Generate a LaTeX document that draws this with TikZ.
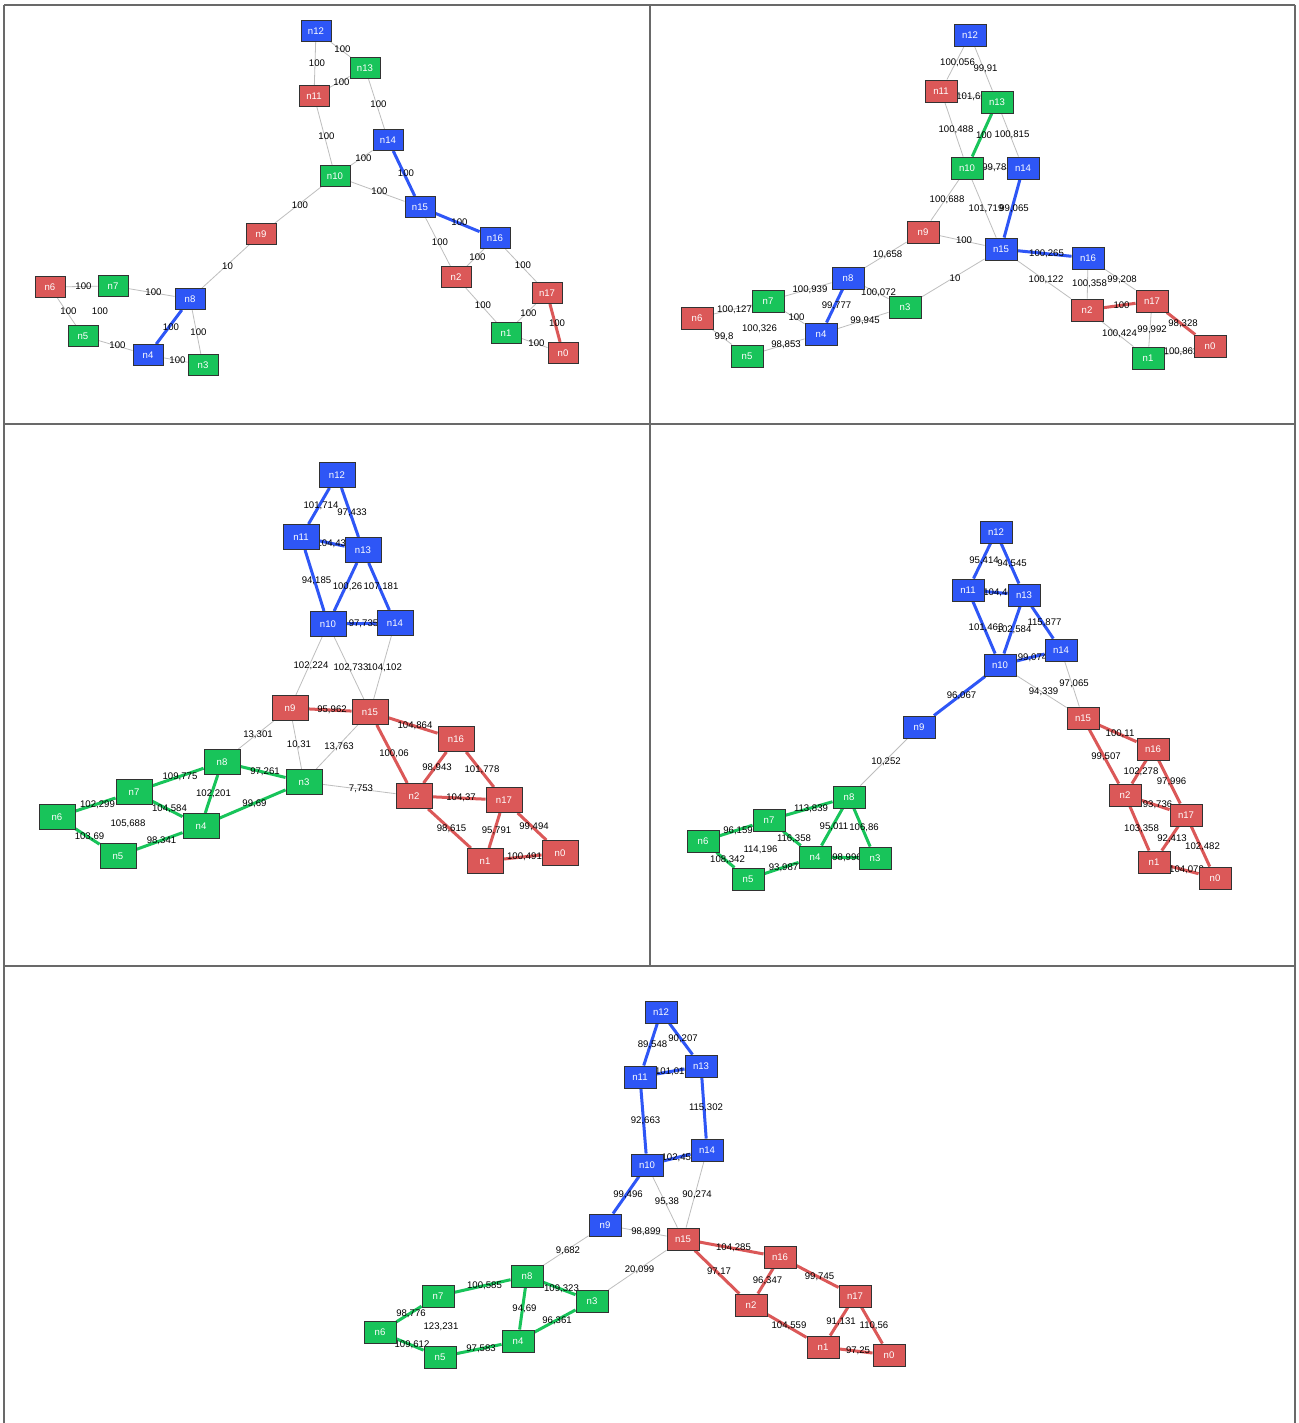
\documentclass[tikz,border=0pt]{standalone}
\usepackage{fontspec}
\setmainfont{Liberation Sans}
\usepackage{tikz}
\definecolor{nodeBlue}{RGB}{46,86,246}
\definecolor{nodeGreen}{RGB}{24,196,90}
\definecolor{nodeRed}{RGB}{219,88,88}
\definecolor{nodeBorder}{RGB}{50,50,50}
\definecolor{edgeGray}{RGB}{190,190,190}
\definecolor{frameGray}{RGB}{105,105,105}
\pgfdeclarelayer{paper}
\pgfdeclarelayer{edges}
\pgfsetlayers{paper,edges,main}
\tikzset{
  vert/.style={draw=nodeBorder, line width=0.9pt, text=white, font=\fontsize{9.6}{10}\selectfont,
    inner sep=0pt, minimum width=32pt, minimum height=22pt},
  bnode/.style={vert, fill=nodeBlue},
  gnode/.style={vert, fill=nodeGreen},
  rnode/.style={vert, fill=nodeRed},
  wt/.style={font=\fontsize{9.6}{10}\selectfont, text=black, inner sep=0pt, xshift=2pt},
  thinedge/.style={draw=edgeGray, line width=0.8pt},
  blueedge/.style={draw=nodeBlue, line width=3pt},
  greenedge/.style={draw=nodeGreen, line width=3pt},
  rededge/.style={draw=nodeRed, line width=3pt},
  frame/.style={draw=frameGray, line width=1.3pt}
}
\begin{document}
\begin{tikzpicture}[x=1pt, y=-1pt]
  \useasboundingbox (0,0) rectangle (1298,1423);
  \begin{pgfonlayer}{paper}
    \fill[white] (0,0) rectangle (1298,1423);
  \end{pgfonlayer}

  % Panel frames
  \draw[frame] (4,5) -- (1295,5);
  \draw[frame] (4,5) -- (4,1423);
  \draw[frame] (1295,5) -- (1295,1423);
  \draw[frame] (4,424) -- (1295,424);
  \draw[frame] (4,966) -- (1295,966);
  \draw[frame] (650,5) -- (650,966);

  % Panel 1 (top left)
  \begin{scope}[vert/.append style={minimum width=30pt, minimum height=21pt}]
    \node[bnode] (p1n12) at (316,31) {n12};
    \node[gnode] (p1n13) at (365,68) {n13};
    \node[rnode] (p1n11) at (314,96) {n11};
    \node[bnode] (p1n14) at (388,140) {n14};
    \node[gnode] (p1n10) at (335,176) {n10};
    \node[bnode] (p1n15) at (420,207) {n15};
    \node[rnode] (p1n9) at (261,234) {n9};
    \node[bnode] (p1n16) at (495,238) {n16};
    \node[rnode] (p1n2) at (456,277) {n2};
    \node[rnode] (p1n17) at (547,293) {n17};
    \node[rnode] (p1n6) at (50,287) {n6};
    \node[gnode] (p1n7) at (113,286) {n7};
    \node[bnode] (p1n8) at (190,299) {n8};
    \node[gnode] (p1n5) at (83,336) {n5};
    \node[bnode] (p1n4) at (148,355) {n4};
    \node[gnode] (p1n3) at (203,365) {n3};
    \node[gnode] (p1n1) at (506,333) {n1};
    \node[rnode] (p1n0) at (563,353) {n0};
  \end{scope}
  \begin{pgfonlayer}{edges}
    \draw[thinedge] (p1n12) -- node[wt] {100} (p1n11);
    \draw[thinedge] (p1n12) -- node[wt] {100} (p1n13);
    \draw[thinedge] (p1n13) -- node[wt] {100} (p1n11);
    \draw[thinedge] (p1n13) -- node[wt] {100} (p1n14);
    \draw[thinedge] (p1n11) -- node[wt] {100} (p1n10);
    \draw[thinedge] (p1n10) -- node[wt] {100} (p1n14);
    \draw[blueedge] (p1n14) -- node[wt] {100} (p1n15);
    \draw[thinedge] (p1n10) -- node[wt] {100} (p1n15);
    \draw[thinedge] (p1n10) -- node[wt] {100} (p1n9);
    \draw[thinedge] (p1n9) -- node[wt] {10} (p1n8);
    \draw[blueedge] (p1n15) -- node[wt] {100} (p1n16);
    \draw[thinedge] (p1n15) -- node[wt] {100} (p1n2);
    \draw[thinedge] (p1n16) -- node[wt] {100} (p1n2);
    \draw[thinedge] (p1n16) -- node[wt] {100} (p1n17);
    \draw[thinedge] (p1n2) -- node[wt] {100} (p1n1);
    \draw[thinedge] (p1n17) -- node[wt] {100} (p1n1);
    \draw[rededge] (p1n17) -- node[wt] {100} (p1n0);
    \draw[thinedge] (p1n1) -- node[wt] {100} (p1n0);
    \draw[thinedge] (p1n6) -- node[wt] {100} (p1n7);
    \draw[thinedge] (p1n7) -- node[wt] {100} (p1n8);
    \draw[thinedge] (p1n6) -- node[wt] {100} (p1n5);
    \path (p1n7) -- node[wt] {100} (p1n5);
    \draw[blueedge] (p1n8) -- node[wt] {100} (p1n4);
    \draw[thinedge] (p1n8) -- node[wt] {100} (p1n3);
    \draw[thinedge] (p1n5) -- node[wt] {100} (p1n4);
    \draw[thinedge] (p1n4) -- node[wt] {100} (p1n3);
  \end{pgfonlayer}

  % Panel 2 (top right)
  \node[bnode] (p2n12) at (970,35) {n12};
  \node[rnode] (p2n11) at (941,91) {n11};
  \node[gnode] (p2n13) at (997,102) {n13};
  \node[gnode] (p2n10) at (967,168) {n10};
  \node[bnode] (p2n14) at (1023,168) {n14};
  \node[rnode] (p2n9) at (923,232) {n9};
  \node[bnode] (p2n15) at (1001,249) {n15};
  \node[bnode] (p2n16) at (1088,258) {n16};
  \node[bnode] (p2n8) at (848,278) {n8};
  \node[gnode] (p2n7) at (768,301) {n7};
  \node[gnode] (p2n3) at (905,307) {n3};
  \node[rnode] (p2n6) at (697,318) {n6};
  \node[rnode] (p2n17) at (1152,301) {n17};
  \node[rnode] (p2n2) at (1087,310) {n2};
  \node[bnode] (p2n4) at (821,334) {n4};
  \node[gnode] (p2n5) at (747,356) {n5};
  \node[gnode] (p2n1) at (1148,358) {n1};
  \node[rnode] (p2n0) at (1210,346) {n0};
  \begin{pgfonlayer}{edges}
    \draw[thinedge] (p2n12) -- node[wt] {100,056} (p2n11);
    \draw[thinedge] (p2n12) -- node[wt] {99,91} (p2n13);
    \draw[thinedge] (p2n11) -- node[wt] {101,66} (p2n13);
    \draw[thinedge] (p2n11) -- node[wt] {100,488} (p2n10);
    \draw[greenedge] (p2n13) -- node[wt] {100} (p2n10);
    \draw[thinedge] (p2n13) -- node[wt] {100,815} (p2n14);
    \draw[thinedge] (p2n10) -- node[wt] {99,781} (p2n14);
    \draw[thinedge] (p2n10) -- node[wt] {100,688} (p2n9);
    \draw[thinedge] (p2n10) -- node[wt] {101,719} (p2n15);
    \draw[blueedge] (p2n14) -- node[wt] {99,065} (p2n15);
    \draw[thinedge] (p2n9) -- node[wt] {100} (p2n15);
    \draw[thinedge] (p2n9) -- node[wt] {10,658} (p2n8);
    \draw[blueedge] (p2n15) -- node[wt] {100,265} (p2n16);
    \draw[thinedge] (p2n15) -- node[wt] {10} (p2n3);
    \draw[thinedge] (p2n15) -- node[wt] {100,122} (p2n2);
    \draw[thinedge] (p2n16) -- node[wt] {100,358} (p2n2);
    \draw[thinedge] (p2n16) -- node[wt] {99,208} (p2n17);
    \draw[rededge] (p2n2) -- node[wt] {100} (p2n17);
    \draw[rededge] (p2n17) -- node[wt] {98,328} (p2n0);
    \draw[thinedge] (p2n2) -- node[wt] {100,424} (p2n1);
    \draw[thinedge] (p2n17) -- node[wt] {99,992} (p2n1);
    \draw[thinedge] (p2n1) -- node[wt] {100,862} (p2n0);
    \draw[thinedge] (p2n8) -- node[wt] {100,939} (p2n7);
    \draw[thinedge] (p2n8) -- node[wt] {100,072} (p2n3);
    \draw[blueedge] (p2n8) -- node[wt] {99,777} (p2n4);
    \draw[thinedge] (p2n7) -- node[wt] {100,127} (p2n6);
    \draw[thinedge] (p2n7) -- node[wt] {100} (p2n4);
    \path (p2n7) -- node[wt] {100,326} (p2n5);
    \draw[thinedge] (p2n6) -- node[wt] {99,8} (p2n5);
    \draw[thinedge] (p2n5) -- node[wt] {98,853} (p2n4);
    \draw[thinedge] (p2n4) -- node[wt] {99,945} (p2n3);
  \end{pgfonlayer}

  % Panel 3 (middle left)
  \begin{scope}[vert/.append style={minimum width=36pt, minimum height=25pt}]
    \node[bnode] (p3n12) at (337,475) {n12};
    \node[bnode] (p3n11) at (301,537) {n11};
    \node[bnode] (p3n13) at (363,550) {n13};
    \node[bnode] (p3n10) at (328,624) {n10};
    \node[bnode] (p3n14) at (395,623) {n14};
    \node[rnode] (p3n9) at (290,708) {n9};
    \node[rnode] (p3n15) at (370,712) {n15};
    \node[rnode] (p3n16) at (456,739) {n16};
    \node[gnode] (p3n8) at (222,762) {n8};
    \node[gnode] (p3n3) at (304,782) {n3};
    \node[gnode] (p3n7) at (134,792) {n7};
    \node[rnode] (p3n2) at (414,796) {n2};
    \node[rnode] (p3n17) at (504,800) {n17};
    \node[gnode] (p3n6) at (57,817) {n6};
    \node[gnode] (p3n4) at (201,826) {n4};
    \node[gnode] (p3n5) at (118,856) {n5};
    \node[rnode] (p3n1) at (485,861) {n1};
    \node[rnode] (p3n0) at (560,853) {n0};
  \end{scope}
  \begin{pgfonlayer}{edges}
    \draw[blueedge] (p3n12) -- node[wt] {101,714} (p3n11);
    \draw[blueedge] (p3n12) -- node[wt] {97,433} (p3n13);
    \draw[blueedge] (p3n11) -- node[wt] {104,433} (p3n13);
    \draw[blueedge] (p3n11) -- node[wt] {94,185} (p3n10);
    \draw[blueedge] (p3n13) -- node[wt] {100,26} (p3n10);
    \draw[blueedge] (p3n13) -- node[wt] {107,181} (p3n14);
    \draw[blueedge] (p3n10) -- node[wt] {97,735} (p3n14);
    \draw[thinedge] (p3n10) -- node[wt] {102,224} (p3n9);
    \draw[thinedge] (p3n10) -- node[wt] {102,733} (p3n15);
    \draw[thinedge] (p3n14) -- node[wt] {104,102} (p3n15);
    \draw[rededge] (p3n9) -- node[wt] {95,962} (p3n15);
    \draw[rededge] (p3n15) -- node[wt] {104,864} (p3n16);
    \draw[rededge] (p3n15) -- node[wt] {100,06} (p3n2);
    \draw[thinedge] (p3n15) -- node[wt] {13,763} (p3n3);
    \draw[thinedge] (p3n9) -- node[wt] {13,301} (p3n8);
    \draw[thinedge] (p3n9) -- node[wt] {10,31} (p3n3);
    \draw[rededge] (p3n16) -- node[wt] {98,943} (p3n2);
    \draw[rededge] (p3n16) -- node[wt] {101,778} (p3n17);
    \draw[rededge] (p3n2) -- node[wt] {104,37} (p3n17);
    \draw[thinedge] (p3n3) -- node[wt] {7,753} (p3n2);
    \draw[rededge] (p3n2) -- node[wt] {98,615} (p3n1);
    \draw[rededge] (p3n17) -- node[wt] {95,791} (p3n1);
    \draw[rededge] (p3n17) -- node[wt] {99,494} (p3n0);
    \draw[rededge] (p3n1) -- node[wt] {100,491} (p3n0);
    \draw[greenedge] (p3n8) -- node[wt] {109,775} (p3n7);
    \draw[greenedge] (p3n8) -- node[wt] {97,261} (p3n3);
    \draw[greenedge] (p3n8) -- node[wt] {102,201} (p3n4);
    \draw[greenedge] (p3n7) -- node[wt] {102,299} (p3n6);
    \draw[greenedge] (p3n7) -- node[wt] {104,584} (p3n4);
    \path (p3n7) -- node[wt] {105,688} (p3n5);
    \draw[greenedge] (p3n6) -- node[wt] {103,69} (p3n5);
    \draw[greenedge] (p3n5) -- node[wt] {98,341} (p3n4);
    \draw[greenedge] (p3n4) -- node[wt] {99,69} (p3n3);
  \end{pgfonlayer}

  % Panel 4 (middle right)
  \node[bnode] (p4n12) at (996,532) {n12};
  \node[bnode] (p4n11) at (968,590) {n11};
  \node[bnode] (p4n13) at (1024,595) {n13};
  \node[bnode] (p4n14) at (1061,650) {n14};
  \node[bnode] (p4n10) at (1000,665) {n10};
  \node[bnode] (p4n9) at (919,727) {n9};
  \node[rnode] (p4n15) at (1083,718) {n15};
  \node[rnode] (p4n16) at (1153,749) {n16};
  \node[gnode] (p4n8) at (849,797) {n8};
  \node[gnode] (p4n7) at (769,820) {n7};
  \node[rnode] (p4n2) at (1125,795) {n2};
  \node[rnode] (p4n17) at (1186,815) {n17};
  \node[gnode] (p4n6) at (703,841) {n6};
  \node[gnode] (p4n4) at (815,857) {n4};
  \node[gnode] (p4n3) at (875,858) {n3};
  \node[gnode] (p4n5) at (748,879) {n5};
  \node[rnode] (p4n1) at (1154,862) {n1};
  \node[rnode] (p4n0) at (1215,878) {n0};
  \begin{pgfonlayer}{edges}
    \draw[blueedge] (p4n12) -- node[wt] {95,414} (p4n11);
    \draw[blueedge] (p4n12) -- node[wt] {94,545} (p4n13);
    \draw[blueedge] (p4n11) -- node[wt] {104,46} (p4n13);
    \draw[blueedge] (p4n11) -- node[wt] {101,463} (p4n10);
    \draw[blueedge] (p4n13) -- node[wt] {102,584} (p4n10);
    \draw[blueedge] (p4n13) -- node[wt] {115,877} (p4n14);
    \draw[blueedge] (p4n10) -- node[wt] {99,074} (p4n14);
    \draw[blueedge] (p4n10) -- node[wt] {96,067} (p4n9);
    \draw[thinedge] (p4n10) -- node[wt] {94,339} (p4n15);
    \draw[thinedge] (p4n14) -- node[wt] {97,065} (p4n15);
    \draw[thinedge] (p4n9) -- node[wt] {10,252} (p4n8);
    \draw[rededge] (p4n15) -- node[wt] {100,11} (p4n16);
    \draw[rededge] (p4n15) -- node[wt] {99,507} (p4n2);
    \draw[rededge] (p4n16) -- node[wt] {102,278} (p4n2);
    \draw[rededge] (p4n16) -- node[wt] {97,996} (p4n17);
    \draw[rededge] (p4n2) -- node[wt] {93,736} (p4n17);
    \draw[rededge] (p4n2) -- node[wt] {103,358} (p4n1);
    \draw[rededge] (p4n17) -- node[wt] {92,413} (p4n1);
    \draw[rededge] (p4n17) -- node[wt] {102,482} (p4n0);
    \draw[rededge] (p4n1) -- node[wt] {104,073} (p4n0);
    \draw[greenedge] (p4n8) -- node[wt] {113,839} (p4n7);
    \draw[greenedge] (p4n8) -- node[wt] {95,011} (p4n4);
    \draw[greenedge] (p4n8) -- node[wt] {106,86} (p4n3);
    \draw[greenedge] (p4n7) -- node[wt] {96,159} (p4n6);
    \draw[greenedge] (p4n7) -- node[wt] {116,358} (p4n4);
    \path (p4n7) -- node[wt] {114,196} (p4n5);
    \draw[greenedge] (p4n6) -- node[wt] {108,342} (p4n5);
    \draw[greenedge] (p4n5) -- node[wt] {93,987} (p4n4);
    \draw[greenedge] (p4n4) -- node[wt] {98,996} (p4n3);
  \end{pgfonlayer}

  % Panel 5 (bottom)
  \node[bnode] (p5n12) at (661,1012) {n12};
  \node[bnode] (p5n11) at (640,1077) {n11};
  \node[bnode] (p5n13) at (701,1066) {n13};
  \node[bnode] (p5n14) at (707,1150) {n14};
  \node[bnode] (p5n10) at (647,1165) {n10};
  \node[bnode] (p5n9) at (605,1225) {n9};
  \node[rnode] (p5n15) at (683,1239) {n15};
  \node[rnode] (p5n16) at (780,1257) {n16};
  \node[gnode] (p5n8) at (527,1276) {n8};
  \node[gnode] (p5n7) at (438,1296) {n7};
  \node[gnode] (p5n3) at (592,1301) {n3};
  \node[rnode] (p5n2) at (751,1305) {n2};
  \node[rnode] (p5n17) at (855,1296) {n17};
  \node[gnode] (p5n6) at (380,1332) {n6};
  \node[gnode] (p5n4) at (518,1341) {n4};
  \node[gnode] (p5n5) at (440,1357) {n5};
  \node[rnode] (p5n1) at (823,1347) {n1};
  \node[rnode] (p5n0) at (889,1355) {n0};
  \begin{pgfonlayer}{edges}
    \draw[blueedge] (p5n12) -- node[wt] {89,548} (p5n11);
    \draw[blueedge] (p5n12) -- node[wt] {90,207} (p5n13);
    \draw[blueedge] (p5n11) -- node[wt] {101,015} (p5n13);
    \draw[blueedge] (p5n11) -- node[wt] {92,663} (p5n10);
    \draw[blueedge] (p5n13) -- node[wt] {115,302} (p5n14);
    \draw[blueedge] (p5n10) -- node[wt] {102,457} (p5n14);
    \draw[blueedge] (p5n10) -- node[wt] {99,496} (p5n9);
    \draw[thinedge] (p5n10) -- node[wt] {95,38} (p5n15);
    \draw[thinedge] (p5n14) -- node[wt] {90,274} (p5n15);
    \draw[thinedge] (p5n9) -- node[wt] {98,899} (p5n15);
    \draw[thinedge] (p5n9) -- node[wt] {9,682} (p5n8);
    \draw[thinedge] (p5n15) -- node[wt] {20,099} (p5n3);
    \draw[rededge] (p5n15) -- node[wt] {104,285} (p5n16);
    \draw[rededge] (p5n15) -- node[wt] {97,17} (p5n2);
    \draw[rededge] (p5n16) -- node[wt] {96,347} (p5n2);
    \draw[rededge] (p5n16) -- node[wt] {99,745} (p5n17);
    \draw[rededge] (p5n2) -- node[wt] {104,559} (p5n1);
    \draw[rededge] (p5n17) -- node[wt] {91,131} (p5n1);
    \draw[rededge] (p5n17) -- node[wt] {110,56} (p5n0);
    \draw[rededge] (p5n1) -- node[wt] {97,25} (p5n0);
    \draw[greenedge] (p5n8) -- node[wt] {100,585} (p5n7);
    \draw[greenedge] (p5n8) -- node[wt] {109,323} (p5n3);
    \draw[greenedge] (p5n8) -- node[wt] {94,69} (p5n4);
    \draw[greenedge] (p5n7) -- node[wt] {98,776} (p5n6);
    \path (p5n7) -- node[wt] {123,231} (p5n5);
    \draw[greenedge] (p5n6) -- node[wt] {109,612} (p5n5);
    \draw[greenedge] (p5n5) -- node[wt] {97,583} (p5n4);
    \draw[greenedge] (p5n4) -- node[wt] {96,361} (p5n3);
  \end{pgfonlayer}
\end{tikzpicture}
\end{document}
